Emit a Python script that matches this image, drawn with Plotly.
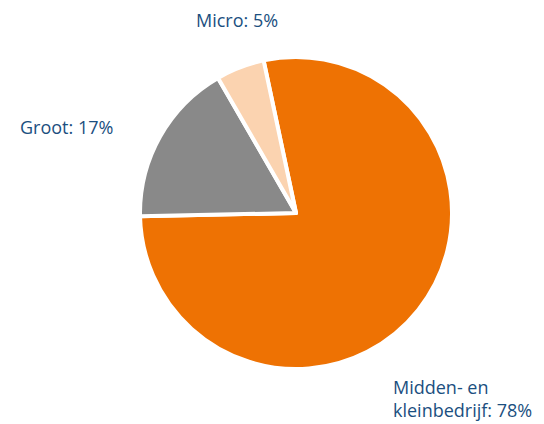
import plotly.graph_objects as go

labels = ['Midden- en kleinbedrijf', 'Groot', 'Micro']
label_text = ['Midden- en<br>kleinbedrijf: 78%', 'Groot: 17%', 'Micro: 5%']
values = [78, 17, 5]
colors = ['#EE7203', '#898989', '#FBD3B0']

# pie centre and radius in pixels (page has an 8px body margin)
cx, cy, r = 288, 205, 156
W, H = 544, 424

fig = go.Figure(
    go.Pie(
        labels=labels,
        values=values,
        sort=False,
        direction='clockwise',
        rotation=-12,
        marker=dict(colors=colors, line=dict(color='white', width=4)),
        textinfo='none',
        hoverinfo='label+percent',
        domain=dict(x=[(cx - r) / W, (cx + r) / W],
                    y=[(H - cy - r) / H, (H - cy + r) / H]),
        showlegend=False,
    )
)

# label positions (pixels from top-left)
label_pos = [(383, 390, 'left'), (58, 119, 'center'), (229, 12, 'center')]
for txt, (x, y, anchor) in zip(label_text, label_pos):
    fig.add_annotation(
        x=x / W, y=1 - y / H, xref='paper', yref='paper',
        text=txt, showarrow=False, align='left',
        xanchor=anchor, yanchor='middle',
        font=dict(family='Open Sans', size=18, color='#1B4F80'),
    )

fig.update_layout(
    width=W, height=H,
    margin=dict(l=0, r=0, t=0, b=0),
    paper_bgcolor='white',
    plot_bgcolor='white',
)

fig.write_html("out.html")
